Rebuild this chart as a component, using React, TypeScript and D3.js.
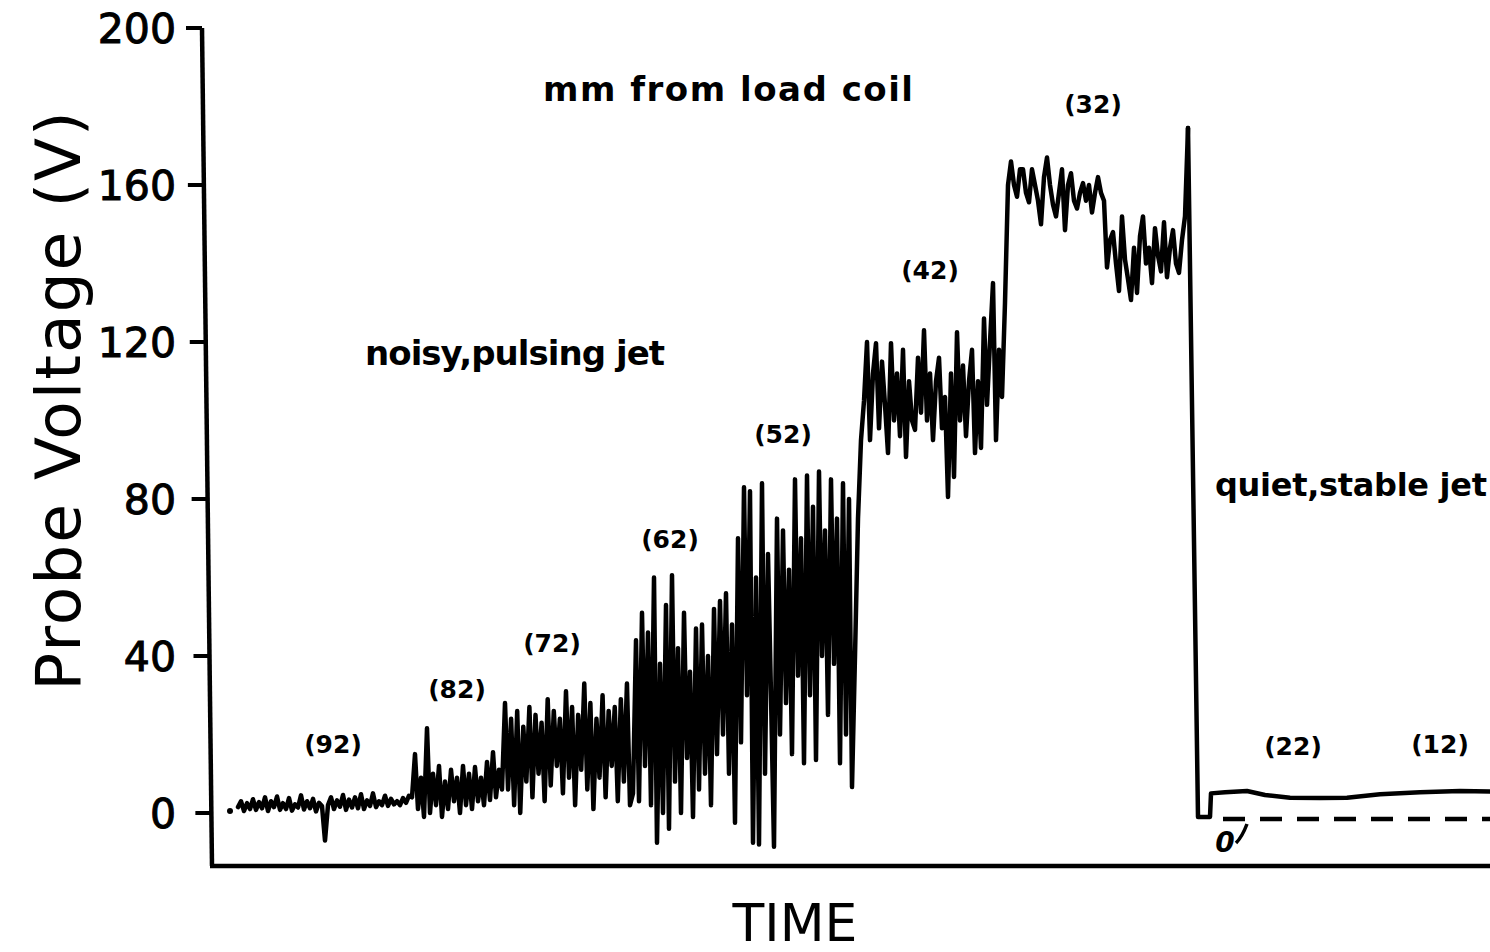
import React from "react";
import * as d3 from "d3";

// ---- Data (time in arbitrary units, voltage in V) ----
const yTicks = [0, 40, 80, 120, 160, 200];

// Noisy trace segments: [startTime, endTime, values]
const seg92 = [1.5, 3.0, 0.5, 2.5, 1.0, 3.5, 0.8, 2.8, 1.2, 4.0, 0.5, 3.0, 1.5, 4.2, 0.8, 2.5, 1.0, 3.8, 0.6, 2.2, 1.4, 4.5, 0.9, 3.0, 1.2, 3.6, 0.4, 2.6, 1.8, -7.0, 2.0, 4.0, 1.0, 3.2, 1.6, 4.6, 0.8, 3.4, 1.4, 4.0, 1.2, 4.8, 1.0, 3.2, 1.8, 5.0, 1.5, 3.0, 2.0, 4.4, 1.8, 3.6, 2.2, 3.0, 2.0, 3.8, 2.6, 4.4];
const seg82 = [4, 15, 1, 9, -1, 21.6, 0, 10, 2, 12, -1, 8, 1, 11, 3, 9, 0, 12, 2, 10, 1, 11.7, 3, 9, 2, 13, 3.3, 15.5, 4, 11, 6];
const seg72 = [28, 6, 24, 2, 26, 0, 22, 8, 27, 4, 25, 10, 23, 3, 29, 7, 26, 12, 24, 5, 31, 9, 27, 2, 25, 11, 33, 6, 28, 1, 24, 9, 30, 4, 26, 12, 27, 3, 29, 8, 33, 2];
const seg62 = [5, 44, 3, 51, 12, 46, 2, 60, -7.6, 38, 0, 53, -4, 60.6, 8, 42, 0, 51, 14, 36, -1, 47, 6, 48, 10, 40, 2, 52, 15, 54];
const seg52 = [20, 56, 10, 48, -2.5, 70, 18, 83, 30, 82, -7.6, 60, -8, 84, 10, 66, 30, -8.6, 75, 20, 72, 28, 62, 15, 85, 35, 70, 12.7, 86, 30, 78, 13.5, 87, 40, 72, 25, 85, 38, 75, 12.7, 84, 20, 80, 6.6];
const seg42 = [40, 75, 95, 105, 120, 95, 112, 119.7, 98, 115, 104, 91.7, 119.7, 100, 112, 96, 118, 90.7, 110, 100, 97.6, 116, 102, 123, 100, 112, 95, 110, 116, 98, 106, 80.5, 112, 85.6, 122.5, 100, 114, 96, 110, 118, 91.7, 110, 93, 126, 104, 120, 135, 95, 118, 106];
const seg32a = [130, 160, 166, 160, 157, 164, 164, 158, 155.6, 164, 160, 156, 150, 162, 167, 160, 155, 152, 158, 164, 148.5, 160, 163, 156, 154, 158, 160.5, 156, 160, 153, 158, 162, 158, 156];
const seg32b = [139, 146, 148, 140, 133, 152, 141, 136, 130.7, 144, 132.5, 147, 152, 140, 144, 135, 149, 142, 138, 150.5, 136.5, 144, 148.5, 140, 137.6, 146, 152, 174.5];

const segStarts = [28, 202, 295, 423, 513, 645, 795, 897];
const segEnds = [199, 292, 420, 510, 642, 792, 894, 978];
const segValues = [seg92, seg82, seg72, seg62, seg52, seg42, seg32a, seg32b];

// Quiet, stable jet trace
const quietTimes = [978, 988, 1000, 1001, 1015, 1037, 1055, 1080, 1110, 1137, 1170, 1210, 1250, 1280];
const quietVolts = [174.5, -1, -1, 5, 5.3, 5.6, 4.6, 3.9, 3.8, 3.9, 4.8, 5.3, 5.6, 5.5];

// zero reference (dashed) for the quiet region
const zeroRefTimes = [1013, 1280];
const zeroRefLevel = -1.5;

// start dot
const startDot = { t: 20, v: 0.5 };

// Distance labels (mm from load coil)
const distLabels = ["(92)", "(82)", "(72)", "(62)", "(52)", "(42)", "(32)", "(22)", "(12)"];
const distLabelT = [123, 247, 342, 460, 573, 720, 883, 1083, 1230];
const distLabelV = [15.3, 29.3, 41.0, 67.4, 94.2, 136.0, 178.3, 14.8, 15.3];

export default function App() {
  const W = 1490, H = 952;
  const x = d3.scaleLinear().domain([0, 1280]).range([210, 1490]);
  const y = d3.scaleLinear().domain([0, 200]).range([813, 28]);

  const noisy: [number, number][] = [];
  segValues.forEach((vals, s) => {
    const t0 = segStarts[s], t1 = segEnds[s];
    vals.forEach((v, i) => {
      noisy.push([t0 + (i * (t1 - t0)) / (vals.length - 1), v]);
    });
  });
  const quiet: [number, number][] = quietTimes.map((t, i) => [t, quietVolts[i]]);

  const line = d3
    .line<[number, number]>()
    .x((d) => x(d[0]))
    .y((d) => y(d[1]));

  const axisTopY = y(200);
  const axisBottomY = 866;
  const axisX = (py: number) => 202 + ((py - axisTopY) * 10) / (axisBottomY - axisTopY);

  const font = "'DejaVu Sans', 'Liberation Sans', sans-serif";

  return (
    <svg width={W} height={H} style={{ position: "absolute", left: 0, top: 0, background: "#fff" }}>
      {/* y axis */}
      <line x1={axisX(axisTopY)} y1={axisTopY} x2={axisX(axisBottomY)} y2={axisBottomY} stroke="#000" strokeWidth={4.5} />
      {yTicks.map((t) => (
        <g key={t}>
          <line x1={axisX(y(t)) - 16} x2={axisX(y(t))} y1={y(t)} y2={y(t)} stroke="#000" strokeWidth={4} />
          <text x={176} y={y(t) + 15} textAnchor="end" fontFamily={font} fontSize={41} fill="#000" stroke="#000" strokeWidth={1}>
            {t}
          </text>
        </g>
      ))}
      {/* x axis */}
      <line x1={axisX(axisBottomY) - 2} x2={1490} y1={axisBottomY} y2={axisBottomY} stroke="#000" strokeWidth={4.5} />

      {/* axis titles */}
      <text transform="translate(80,400) rotate(-90)" textAnchor="middle" fontFamily={font} fontSize={63} fill="#000" letterSpacing={2}>
        Probe Voltage (V)
      </text>
      <text x={795} y={941} textAnchor="middle" fontFamily={font} fontSize={52} fill="#000">
        TIME
      </text>

      {/* traces */}
      <path d={line(noisy) || ""} fill="none" stroke="#000" strokeWidth={4.5} strokeLinejoin="round" strokeLinecap="round" />
      <path d={line(quiet) || ""} fill="none" stroke="#000" strokeWidth={4.5} strokeLinejoin="round" strokeLinecap="round" />
      <circle cx={x(startDot.t)} cy={y(startDot.v)} r={3} fill="#000" />

      {/* zero reference */}
      <line x1={x(zeroRefTimes[0])} x2={x(zeroRefTimes[1])} y1={y(zeroRefLevel)} y2={y(zeroRefLevel)} stroke="#000" strokeWidth={4.5} strokeDasharray="22 15" />
      <text x={1225} y={852} textAnchor="middle" fontFamily={font} fontStyle="italic" fontWeight="bold" fontSize={28} fill="#000">
        0
      </text>
      <path d="M1247,824 C1244,832 1241,838 1236,843" stroke="#000" strokeWidth={3.5} fill="none" />

      {/* annotations */}
      <text x={543} y={101} textLength={370} lengthAdjust="spacing" fontFamily={font} fontWeight="bold" fontSize={34} fill="#000">
        mm  from  load  coil
      </text>
      <text x={365} y={365} textLength={300} lengthAdjust="spacing" fontFamily={font} fontWeight="bold" fontSize={34} fill="#000">
        noisy,pulsing  jet
      </text>
      <text x={1215} y={496} textLength={272} lengthAdjust="spacing" fontFamily={font} fontWeight="bold" fontSize={32} fill="#000">
        quiet,stable  jet
      </text>
      {distLabels.map((l, i) => (
        <text key={l} x={x(distLabelT[i])} y={y(distLabelV[i])} textAnchor="middle" fontFamily={font} fontWeight="bold" fontSize={25} fill="#000">
          {l}
        </text>
      ))}
    </svg>
  );
}
